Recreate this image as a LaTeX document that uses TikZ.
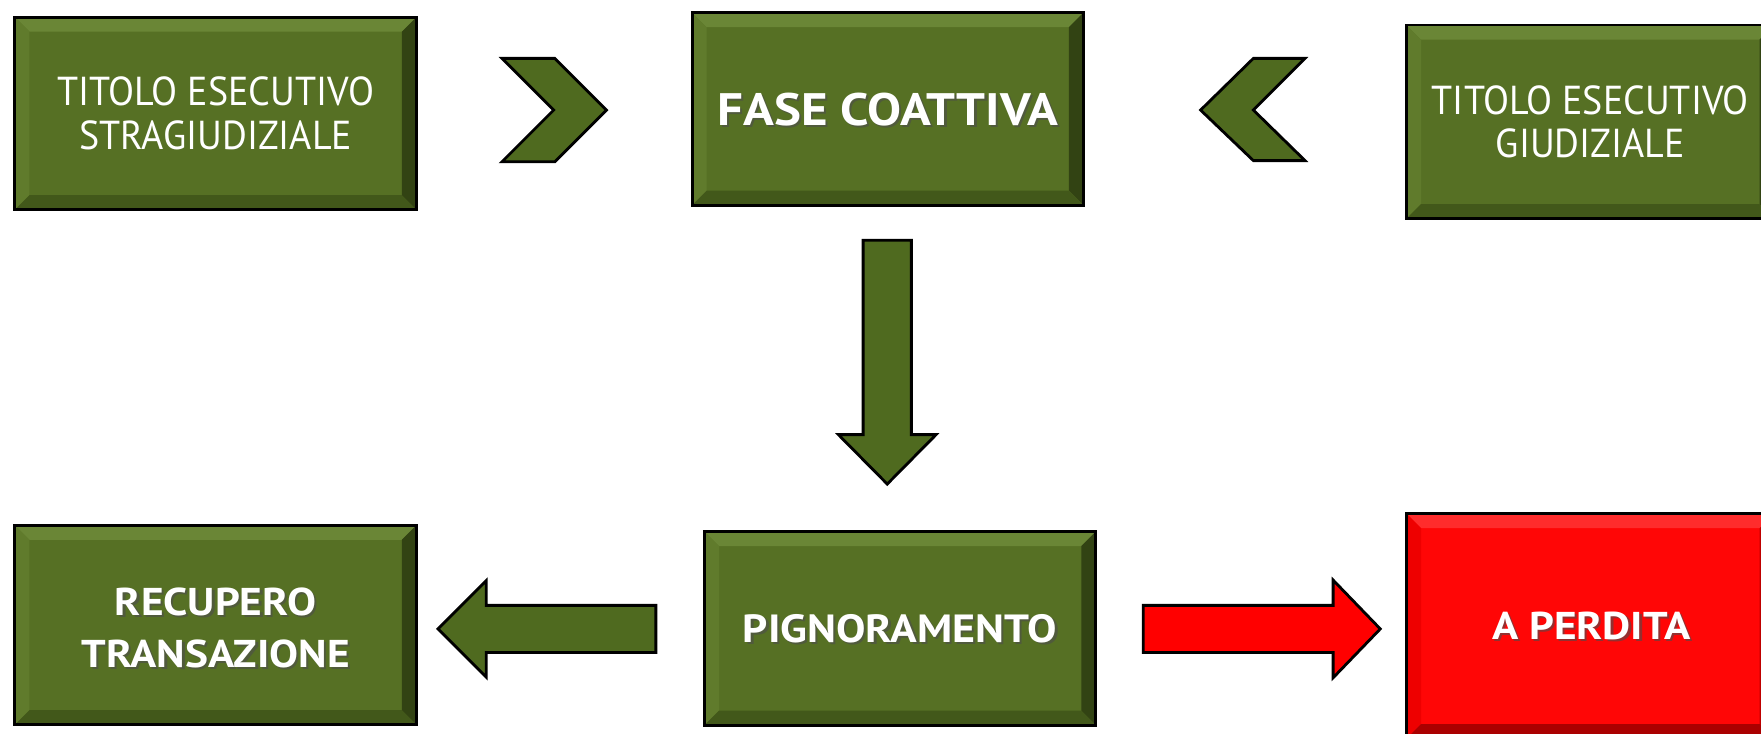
\documentclass[tikz,border=0pt]{standalone}
\usepackage{fontspec}
\setmainfont{PT Sans}
\newfontfamily\bx[FakeStretch=0.94]{PT Sans}
\newfontfamily\bxb[FakeStretch=1.12]{PT Sans Bold}
\usetikzlibrary{calc}
\definecolor{gface}{RGB}{86,112,36}
\definecolor{gtop}{RGB}{106,134,54}
\definecolor{gleft}{RGB}{96,123,44}
\definecolor{gright}{RGB}{50,67,19}
\definecolor{gbot}{RGB}{66,88,26}
\definecolor{garrow}{RGB}{79,106,31}
\definecolor{rface}{RGB}{255,6,6}
\definecolor{rtop}{RGB}{255,44,44}
\definecolor{rleft}{RGB}{238,0,0}
\definecolor{rright}{RGB}{190,0,0}
\definecolor{rbot}{RGB}{170,0,0}
\definecolor{rarrow}{RGB}{255,0,0}
\tikzset{
  bevelbox/.style n args={5}{rectangle, fill=#1, draw=black, line width=2.5pt, inner sep=0pt,
    path picture={
      \path (path picture bounding box.north west) coordinate (pnw)
            (path picture bounding box.north east) coordinate (pne)
            (path picture bounding box.south west) coordinate (psw)
            (path picture bounding box.south east) coordinate (pse);
      \fill[#2] (pnw) -- (pne) -- ($(pne)+(-13,13)$) -- ($(pnw)+(13,13)$) -- cycle;
      \fill[#3] (pnw) -- ($(pnw)+(13,13)$) -- ($(psw)+(13,-13)$) -- (psw) -- cycle;
      \fill[#4] (pne) -- (pse) -- ($(pse)+(-13,-13)$) -- ($(pne)+(-13,13)$) -- cycle;
      \fill[#5] (psw) -- ($(psw)+(13,-13)$) -- ($(pse)+(-13,-13)$) -- (pse) -- cycle;
    }},
  gbox/.style={bevelbox={gface}{gtop}{gleft}{gright}{gbot}},
  rbox/.style={bevelbox={rface}{rtop}{rleft}{rright}{rbot}},
  plaintxt/.style={text=white, align=center, inner sep=0pt, font=\bx\fontsize{36}{38.5}\selectfont},
  boldtxt/.style={text=white, align=center, inner sep=0pt, font=\bxb\fontsize{#1}{46.5}\selectfont},
  shadowtxt/.style={text=black!70, opacity=0.6, align=center, inner sep=0pt, font=\bxb\fontsize{#1}{46.5}\selectfont},
  blockarrow/.style={draw=black, line width=2.5pt, line join=miter, fill=#1},
}
\begin{document}
\begin{tikzpicture}[x=1pt,y=-1pt]
\useasboundingbox[fill=white] (0,0) rectangle (1568,652.7);
% boxes
\node[gbox, minimum width=357.5, minimum height=171.5] (b1) at (192,101) {};
\node[gbox, minimum width=348.5, minimum height=171.5] (b2) at (790.5,97) {};
\node[gbox, minimum width=327.5, minimum height=172.5] (b3) at (1416,108.5) {};
\node[gbox, minimum width=357.5, minimum height=177.5] (b4) at (192,556.5) {};
\node[gbox, minimum width=348.5, minimum height=172.5] (b5) at (801.5,559.5) {};
\node[rbox, minimum width=327.5, minimum height=200.5] (b6) at (1416,557.5) {};
% texts
\node[plaintxt] (t1) at (b1.center) {TITOLO ESECUTIVO\\STRAGIUDIZIALE};
\node[plaintxt] (t3) at (b3.center) {TITOLO ESECUTIVO\\GIUDIZIALE};
\node[shadowtxt=40.5] (s2) at ($(b2.center)+(2,2.5)$) {FASE COATTIVA};
\node[boldtxt=40.5] (t2) at ($(b2.center)+(0,1)$) {FASE COATTIVA};
\node[shadowtxt=34.5] (s4) at ($(b4.center)+(2,4.5)$) {RECUPERO\\TRANSAZIONE};
\node[boldtxt=34.5] (t4) at ($(b4.center)+(0,2.5)$) {RECUPERO\\TRANSAZIONE};
\node[shadowtxt=35] (s5) at ($(b5.center)+(2,2.5)$) {PIGNORAMENTO};
\node[boldtxt=35] (t5) at ($(b5.center)+(0,0.5)$) {PIGNORAMENTO};
\node[shadowtxt=34.5] (s6) at ($(b6.center)+(3,2)$) {A PERDITA};
\node[boldtxt=34.5] (t6) at ($(b6.center)+(1,0)$) {A PERDITA};
% chevrons
\draw[blockarrow=garrow] (447,52) -- (494,52) -- (540,98) -- (494,144) -- (447,144) -- (493,98) -- cycle;
\draw[blockarrow=garrow] (1162,52) -- (1116,52) -- (1069,98) -- (1116,143) -- (1162,143) -- (1116,98) -- cycle;
% down arrow
\coordinate (dtop) at ($(b2.south)+(-0.5,30)$);
\coordinate (dtip) at ($(b5.north)+(-11.5,-41)$);
\draw[blockarrow=garrow] ($(dtop)+(-21.5,0)$) -- ($(dtop)+(21.5,0)$) -- ($(dtip)+(21.5,-44)$) -- ($(dtip)+(43.5,-44)$) -- (dtip) -- ($(dtip)+(-43.5,-44)$) -- ($(dtip)+(-21.5,-44)$) -- cycle;
% left arrow
\coordinate (ltail) at ($(b5.west)+(-42,0.5)$);
\coordinate (ltip) at ($(b4.east)+(18,3.5)$);
\draw[blockarrow=garrow] ($(ltail)+(0,-21)$) -- ($(ltail)+(0,21)$) -- ($(ltip)+(43,21)$) -- ($(ltip)+(43,43)$) -- (ltip) -- ($(ltip)+(43,-43)$) -- ($(ltip)+(43,-21)$) -- cycle;
% right red arrow
\coordinate (rtail) at ($(b5.east)+(41,0.5)$);
\coordinate (rtip) at ($(b6.west)+(-22,2.5)$);
\draw[blockarrow=rarrow] ($(rtail)+(0,-21)$) -- ($(rtail)+(0,21)$) -- ($(rtip)+(-42,21)$) -- ($(rtip)+(-42,43.5)$) -- (rtip) -- ($(rtip)+(-42,-43.5)$) -- ($(rtip)+(-42,-21)$) -- cycle;
\end{tikzpicture}
\end{document}
